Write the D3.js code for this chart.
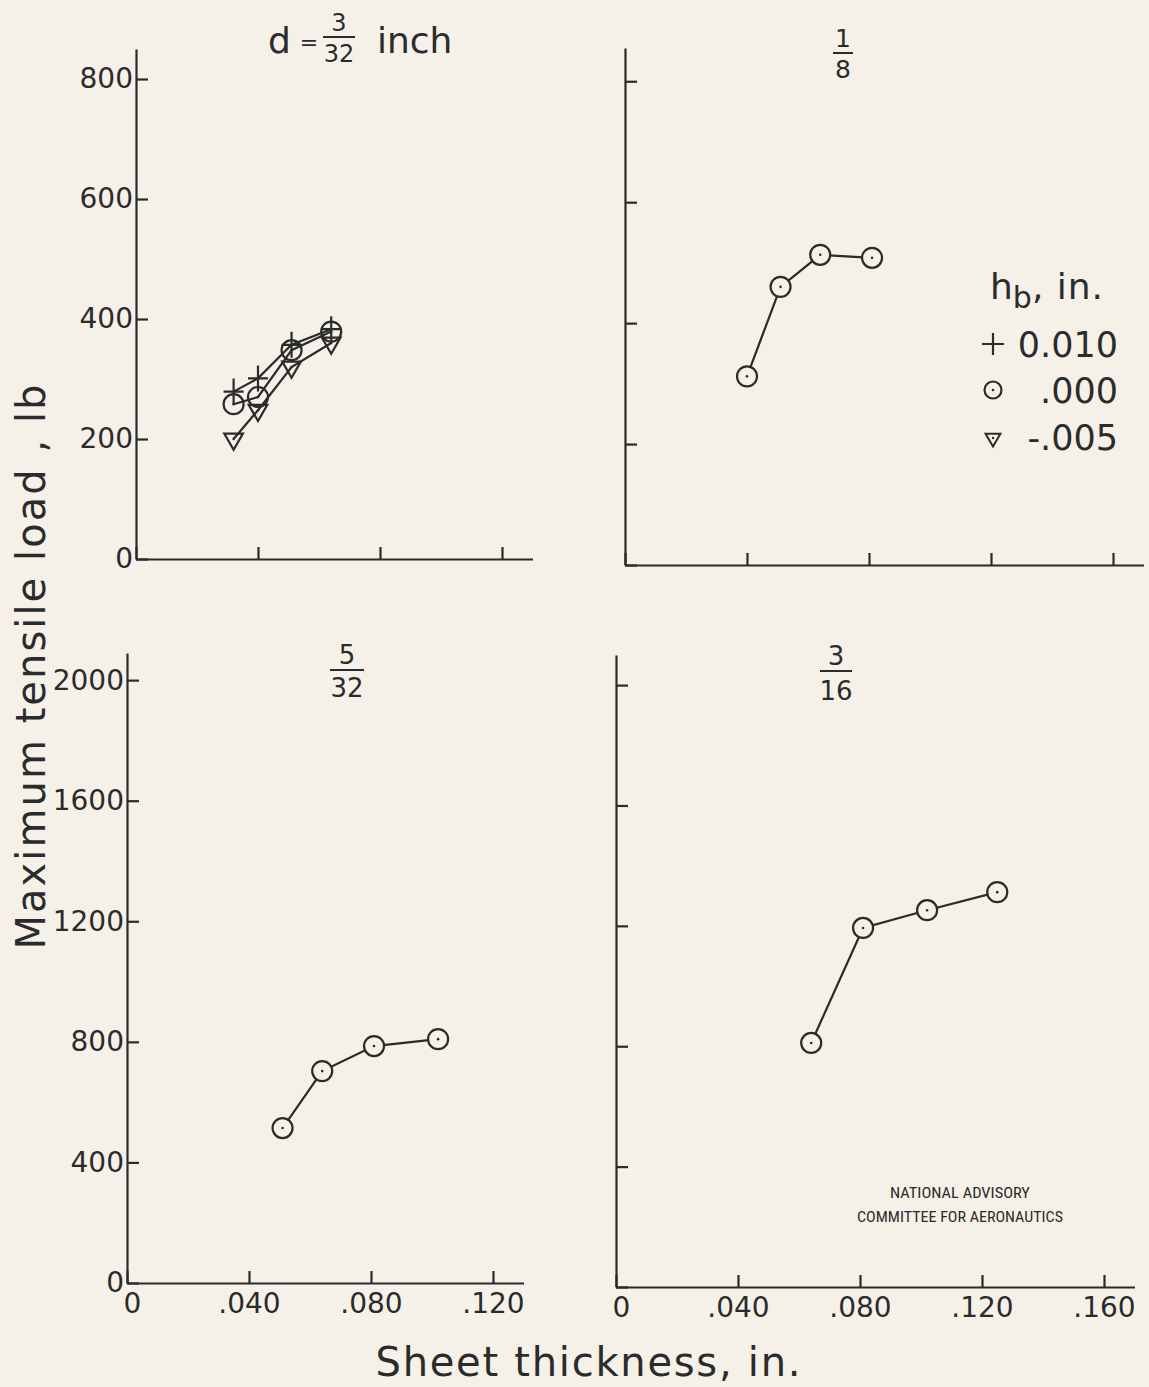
<!DOCTYPE html>
<html><head><meta charset="utf-8">
<script src="https://cdn.jsdelivr.net/npm/d3@7"></script>
<style>html,body{margin:0;padding:0;background:#f5f1e8}</style>
</head><body>
<svg id="c" width="1149" height="1387"></svg>
<script>
// ---------- data ----------
const thicknessTL = [0.032, 0.040, 0.051, 0.064];
const loadPlusTL   = [279, 301, 357, 383];   // hb = +0.010
const loadCircleTL = [258, 270, 348, 379];   // hb = .000
const loadTriTL    = [200, 248, 320, 360];   // hb = -.005
const thicknessTR = [0.040, 0.051, 0.064, 0.081];
const loadTR      = [312, 460, 513, 508];
const thicknessBL = [0.051, 0.064, 0.081, 0.102];
const loadBL      = [514, 703, 786, 809];
const thicknessBR = [0.064, 0.081, 0.102, 0.125];
const loadBR      = [811, 1193, 1252, 1312];
const yTicksTop    = [0, 200, 400, 600, 800];
const yTicksBottom = [0, 400, 800, 1200, 1600, 2000];
const xTicksLeft   = [0, 0.04, 0.08, 0.12];
const xTicksRight  = [0, 0.04, 0.08, 0.12, 0.16];
const legendTitle  = ["h", "b", ", in."];
const legendLabels = ["0.010", ".000", "-.005"];
const titleTL = ["d", "=", "3", "32", "inch"];
const titleTR = ["1", "8"];
const titleBL = ["5", "32"];
const titleBR = ["3", "16"];
const yTitle = "Maximum  tensile  load , lb";
const xTitle = "Sheet  thickness, in.";
const nacaLines = ["NATIONAL  ADVISORY", "COMMITTEE FOR AERONAUTICS"];

// ---------- style ----------
const INK = "#2b2b2b", BG = "#f5f1e8", SW = 2.2;
const FONT = "'DejaVu Sans', 'Open Sans', sans-serif";
const svg = d3.select("#c");
svg.append("rect").attr("width",1149).attr("height",1387).attr("fill",BG);

const fmtX = v => v === 0 ? "0" : d3.format(".3f")(v).replace(/^0/, "");

function panel(cfg) {
  const x = d3.scaleLinear().domain(cfg.xd).range(cfg.xr);
  const y = d3.scaleLinear().domain(cfg.yd).range(cfg.yr);
  const g = svg.append("g");
  const ax = d3.axisBottom(x).tickValues(cfg.xTicks).tickSize(-12).tickSizeOuter(0).tickPadding(10)
    .tickFormat(cfg.xLabels ? fmtX : "");
  const ay = d3.axisLeft(y).tickValues(cfg.yTicks).tickSize(-12).tickSizeOuter(0).tickPadding(cfg.yPad || 3)
    .tickFormat(cfg.yLabels ? d3.format("d") : "");
  const gx = g.append("g").attr("transform", `translate(0,${y(0)})`).call(ax);
  const gy = g.append("g").attr("transform", `translate(${x(0)},0)`).call(ay);
  [gx, gy].forEach(a => {
    a.selectAll(".domain").attr("stroke", INK).attr("stroke-width", SW);
    a.selectAll(".tick line").attr("stroke", INK).attr("stroke-width", SW);
    a.selectAll(".tick text").attr("fill", INK).attr("font-family", FONT).attr("font-size", 28);
  });
  gx.selectAll(".tick text").attr("dx", d => d === 0 ? 5 : 0);
  if (!cfg.x0Label) gx.selectAll(".tick").filter(d => d === 0).select("text").text("");
  return {x, y, g};
}

const line = (x, y) => d3.line().x(d => x(d[0])).y(d => y(d[1]));

function circles(g, x, y, pts, fill) {
  const s = g.append("g");
  s.selectAll("circle.m").data(pts).join("circle").attr("class","m")
    .attr("cx", d => x(d[0])).attr("cy", d => y(d[1])).attr("r", 10)
    .attr("fill", fill).attr("stroke", INK).attr("stroke-width", SW);
  s.selectAll("circle.d").data(pts).join("circle").attr("class","d")
    .attr("cx", d => x(d[0])).attr("cy", d => y(d[1])).attr("r", 1.3).attr("fill", INK);
}
function triangles(g, x, y, pts, size) {
  const sym = d3.symbol().type(d3.symbolTriangle).size(size);
  const s = g.append("g");
  s.selectAll("path").data(pts).join("path").attr("d", sym)
    .attr("transform", d => `translate(${x(d[0])},${y(d[1])}) rotate(180)`)
    .attr("fill", "none").attr("stroke", INK).attr("stroke-width", SW).attr("stroke-linejoin","miter");
  s.selectAll("circle").data(pts).join("circle")
    .attr("cx", d => x(d[0])).attr("cy", d => y(d[1])).attr("r", 1.3).attr("fill", INK);
}
function pluses(g, x, y, pts) {
  g.append("g").selectAll("path").data(pts).join("path")
    .attr("d", "M-10,0H10M0,-13V13")
    .attr("transform", d => `translate(${x(d[0])},${y(d[1])})`)
    .attr("fill", "none").attr("stroke", INK).attr("stroke-width", SW);
}
function series(p, xs, ys) {
  const pts = d3.zip(xs, ys);
  p.g.append("path").datum(pts).attr("d", line(p.x, p.y))
    .attr("fill","none").attr("stroke", INK).attr("stroke-width", SW);
  return pts;
}
function frac(cx, numY, barY, denY, num, den, size, barW) {
  const g = svg.append("g").attr("fill", INK).attr("font-family", FONT).attr("font-size", size)
    .attr("text-anchor","middle");
  g.append("text").attr("x", cx).attr("y", numY).text(num);
  g.append("line").attr("x1", cx - barW/2).attr("x2", cx + barW/2).attr("y1", barY).attr("y2", barY)
    .attr("stroke", INK).attr("stroke-width", 2);
  g.append("text").attr("x", cx).attr("y", denY).text(den);
}

// ---------- panels ----------
const TL = panel({xd:[0,0.13], xr:[136,532.5], yd:[0,850], yr:[559,49],
  xTicks:xTicksLeft, yTicks:yTicksTop, xLabels:false, yLabels:true, yPad:3});
const TR = panel({xd:[0,0.17], xr:[625,1143.5], yd:[0,855], yr:[565,48],
  xTicks:xTicksRight, yTicks:yTicksTop, xLabels:false, yLabels:false});
const BL = panel({xd:[0,0.13], xr:[127,523.5], yd:[0,2090], yr:[1283,653],
  xTicks:xTicksLeft, yTicks:yTicksBottom, xLabels:true, yLabels:true, x0Label:true, yPad:3});
const BR = panel({xd:[0,0.17], xr:[616,1134.5], yd:[0,2100], yr:[1287,655],
  xTicks:xTicksRight, yTicks:yTicksBottom, xLabels:true, yLabels:false, x0Label:true});

// top-left: three series
const pPlus = series(TL, thicknessTL, loadPlusTL);
const pCirc = series(TL, thicknessTL, loadCircleTL);
const pTri  = series(TL, thicknessTL, loadTriTL);
triangles(TL.g, TL.x, TL.y, pTri, 150);
circles(TL.g, TL.x, TL.y, pCirc, "none");
pluses(TL.g, TL.x, TL.y, pPlus);

circles(TR.g, TR.x, TR.y, series(TR, thicknessTR, loadTR), BG);
circles(BL.g, BL.x, BL.y, series(BL, thicknessBL, loadBL), BG);
circles(BR.g, BR.x, BR.y, series(BR, thicknessBR, loadBR), BG);

// ---------- titles ----------
const tt = svg.append("g").attr("fill", INK).attr("font-family", FONT);
tt.append("text").attr("x", 268).attr("y", 53).attr("font-size", 36).text(titleTL[0]);
tt.append("text").attr("x", 309).attr("y", 50).attr("font-size", 22).attr("text-anchor","middle").text(titleTL[1]);
frac(339, 31, 37, 62, titleTL[2], titleTL[3], 24, 32);
tt.append("text").attr("x", 377).attr("y", 53).attr("font-size", 36).text(titleTL[4]);
frac(843, 47, 53, 78, titleTR[0], titleTR[1], 25, 20);
frac(347, 664, 670, 697, titleBL[0], titleBL[1], 26, 34);
frac(836, 665, 671, 700, titleBR[0], titleBR[1], 26, 32);

// ---------- legend ----------
const lg = svg.append("g").attr("fill", INK).attr("font-family", FONT);
const lt = lg.append("text").attr("x", 990).attr("y", 299).attr("font-size", 36);
lt.append("tspan").text(legendTitle[0]);
lt.append("tspan").attr("font-size", 30).attr("dy", 9).text(legendTitle[1]);
lt.append("tspan").attr("dy", -9).attr("letter-spacing", 1).text(legendTitle[2]);
const rowY = [357, 403, 450];
legendLabels.forEach((l, i) => {
  lg.append("text").attr("x", 1118).attr("y", rowY[i]).attr("font-size", 35)
    .attr("text-anchor","end").text(l);
});
const ls = svg.append("g");
ls.append("path").attr("d","M-11,0H11M0,-11V11").attr("transform",`translate(993,${rowY[0]-13})`)
  .attr("stroke", INK).attr("stroke-width", SW).attr("fill","none");
ls.append("circle").attr("cx",993).attr("cy",rowY[1]-13).attr("r",8.5).attr("fill","none")
  .attr("stroke",INK).attr("stroke-width",SW);
ls.append("circle").attr("cx",993).attr("cy",rowY[1]-13).attr("r",1.3).attr("fill",INK);
ls.append("path").attr("d", d3.symbol().type(d3.symbolTriangle).size(95))
  .attr("transform",`translate(993,${rowY[2]-12}) rotate(180)`)
  .attr("fill","none").attr("stroke",INK).attr("stroke-width",2);
ls.append("circle").attr("cx",993).attr("cy",rowY[2]-12).attr("r",1.2).attr("fill",INK);

// ---------- axis titles ----------
svg.append("text").attr("transform","translate(45,667) rotate(-90)")
  .attr("text-anchor","middle").attr("font-family",FONT).attr("font-size",40).attr("fill",INK)
  .attr("textLength",565).attr("lengthAdjust","spacing").text(yTitle);
svg.append("text").attr("x",588).attr("y",1376)
  .attr("text-anchor","middle").attr("font-family",FONT).attr("font-size",40).attr("fill",INK)
  .attr("textLength",425).attr("lengthAdjust","spacing").text(xTitle);

// ---------- NACA ----------
const nf = "'Liberation Sans Narrow','Roboto Condensed','Liberation Sans',sans-serif";
svg.append("text").attr("x",960).attr("y",1198).attr("text-anchor","middle").attr("font-family",nf)
  .attr("font-size",15).attr("fill",INK).attr("textLength",140).attr("lengthAdjust","spacingAndGlyphs").text(nacaLines[0]);
svg.append("text").attr("x",960).attr("y",1222).attr("text-anchor","middle").attr("font-family",nf)
  .attr("font-size",15).attr("fill",INK).attr("textLength",206).attr("lengthAdjust","spacingAndGlyphs").text(nacaLines[1]);
</script>
</body></html>
